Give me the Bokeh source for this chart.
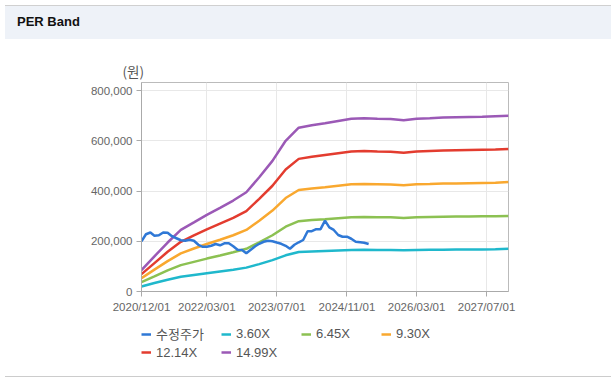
from datetime import datetime
import pandas as pd
from bokeh.plotting import figure
from bokeh.models import (Range1d, FixedTicker, DatetimeTickFormatter, NumeralTickFormatter,
                          Legend, LegendItem, Div, ColumnDataSource)
from bokeh.layouts import column
from bokeh.embed import file_html
from bokeh.resources import INLINE

# ---------------- data ----------------
price_start = "2020-12-01"
price = [200, 228, 235, 222, 224, 235, 234, 220, 212, 204, 202, 206, 202, 186, 178, 178,
         182, 189, 184, 192, 192, 180, 166, 165, 152, 166, 180, 190, 198, 202, 200, 195,
         190, 182, 170, 186, 196, 205, 240, 240, 248, 248, 282, 255, 245, 225, 218, 218,
         210, 198, 196, 194, 189]  # thousand won, monthly

band_start = "2020-12-01"
band_labels = ["3.60X", "6.45X", "9.30X", "12.14X", "14.99X"]
band_360 = [20, 34, 47, 59, 66, 73, 80, 87, 95, 109, 125, 144, 157, 159, 161, 163, 165, 166,
            165, 165, 164, 165, 166, 166, 167, 167, 167, 168, 170]
band_645 = [37, 60, 84, 105, 118, 131, 143, 156, 170, 196, 224, 258, 280, 285, 288, 292, 296,
            297, 296, 296, 293, 296, 297, 298, 299, 299, 300, 300, 301]
band_930 = [53, 87, 121, 152, 171, 189, 206, 224, 245, 282, 322, 372, 404, 410, 415, 421, 427,
            428, 427, 426, 423, 427, 428, 430, 430, 431, 432, 433, 436]
band_1214 = [69, 113, 158, 198, 223, 247, 270, 293, 320, 369, 421, 486, 528, 536, 543, 550, 557,
             559, 557, 556, 552, 557, 559, 561, 562, 563, 564, 565, 567]
band_1499 = [85, 140, 195, 245, 275, 305, 333, 362, 395, 455, 520, 600, 652, 662, 670, 679, 688,
             690, 688, 687, 682, 688, 690, 693, 694, 695, 696, 698, 700]

x_tick_labels = ["2020/12/01", "2022/03/01", "2023/07/01", "2024/11/01", "2026/03/01", "2027/07/01"]
y_ticks = [0, 200000, 400000, 600000, 800000]

colors = ["#2f78d6", "#1fb8cc", "#8cc152", "#f9a82f", "#e33c2f", "#9b59b6"]

# ---------------- main figure ----------------
price_dates = pd.date_range(price_start, periods=len(price), freq="MS")
band_dates = pd.date_range(band_start, periods=len(band_1499), freq="QS-DEC")

p = figure(x_axis_type="datetime", output_backend="svg", toolbar_location=None,
           frame_width=367, frame_height=209,
           min_border_left=141, min_border_right=98, min_border_top=38, min_border_bottom=25,
           x_range=Range1d(datetime(2020, 12, 1), datetime(2027, 12, 1)),
           y_range=Range1d(0, 832000))

p.background_fill_color = "white"
p.border_fill_color = "white"
p.outline_line_color = "#bbbbbb"

p.title.text = "(원)"
p.title.align = "left"
p.title.offset = -19
p.title.text_font = "Noto Sans CJK KR"
p.title.text_font_size = "13.5px"
p.title.text_font_style = "normal"
p.title.text_color = "#555555"
p.title.standoff = 3

tick_ms = [pd.Timestamp(s.replace("/", "-")).value // 10**6 for s in x_tick_labels]
p.xaxis.ticker = FixedTicker(ticks=tick_ms)
fmt = "%Y/%m/%d"
p.xaxis.formatter = DatetimeTickFormatter(years=fmt, months=fmt, days=fmt, hours=fmt,
                                          minutes=fmt, seconds=fmt, milliseconds=fmt,
                                          microseconds=fmt, hourmin=fmt, minsec=fmt)
p.yaxis.ticker = FixedTicker(ticks=y_ticks)
p.yaxis.formatter = NumeralTickFormatter(format="0,0")

for ax in (p.xaxis[0], p.yaxis[0]):
    ax.axis_line_color = "#aaaaaa"
    ax.major_tick_line_color = "#aaaaaa"
    ax.major_tick_out = 5
    ax.major_tick_in = 0
    ax.minor_tick_line_color = None
    ax.major_label_text_font = "Liberation Sans"
    ax.major_label_text_font_size = "11.5px"
    ax.major_label_text_color = "#666666"
    ax.major_label_standoff = 4

p.grid.grid_line_color = "#e8e8e8"

src_p = ColumnDataSource(dict(x=price_dates, y=[v * 1000 for v in price]))
bands = [band_360, band_645, band_930, band_1214, band_1499]
band_srcs = [ColumnDataSource(dict(x=band_dates, y=[v * 1000 for v in b])) for b in bands]
for i, src in enumerate(band_srcs):
    p.line("x", "y", source=src, line_color=colors[i + 1], line_width=2.5)
p.line("x", "y", source=src_p, line_color=colors[0], line_width=2.5)

# ---------------- legend strip (same series, legend only) ----------------
leg = figure(output_backend="svg", toolbar_location=None, width=606, height=55,
             x_axis_type="datetime", x_range=p.x_range, y_range=Range1d(-2, -1),
             min_border=0, outline_line_color=None)
leg.axis.visible = False
leg.grid.visible = False
leg_price = leg.line("x", "y", source=src_p, line_color=colors[0], line_width=2.5)
leg_bands = [leg.line("x", "y", source=src, line_color=colors[i + 1], line_width=2.5)
             for i, src in enumerate(band_srcs)]

items = [LegendItem(label="수정주가", renderers=[leg_price])]
for lab, r in zip(band_labels, leg_bands):
    items.append(LegendItem(label=lab, renderers=[r]))

legend = Legend(items=items, ncols=4, location=(0, 10), orientation="horizontal",
                margin=0, padding=0, spacing=0,
                label_text_font="Liberation Sans, Noto Sans CJK KR", label_text_font_size="13px",
                label_text_color="#555555", glyph_width=10, glyph_height=18,
                label_standoff=5, label_width=65, label_height=18,
                border_line_color=None, background_fill_alpha=0)
leg.add_layout(legend, "center")

header = Div(text="PER Band", width=606, height=34,
             styles={"background-color": "#eef2f8", "border-top": "1px solid #d0d0d0",
                     "font-weight": "bold", "font-size": "13px", "line-height": "32px",
                     "padding-left": "12px", "box-sizing": "border-box",
                     "font-family": "Liberation Sans, Arial, sans-serif", "color": "#111"})
bottom_line = Div(text="", width=606, height=1, styles={"background-color": "#cccccc"})

layout = column(header, p, leg, bottom_line, spacing=0)

open("out.html", "w").write(file_html(layout, INLINE))
